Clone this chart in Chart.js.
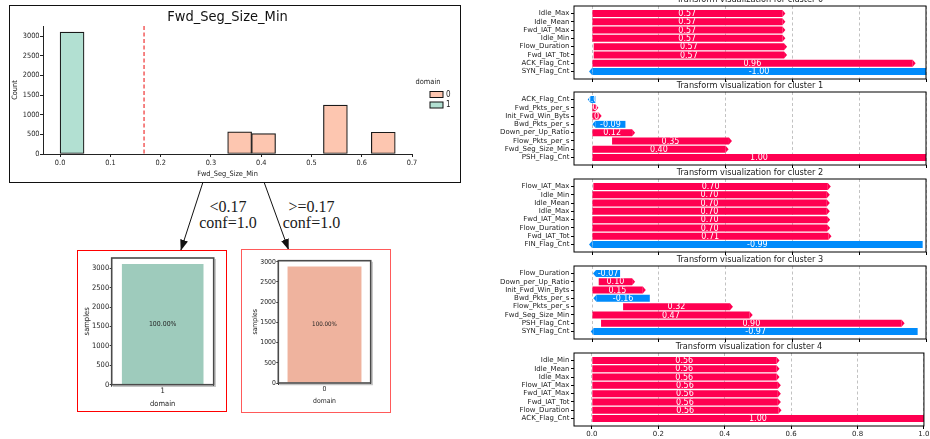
<!DOCTYPE html>
<html>
<head>
<meta charset="utf-8">
<script src="https://cdn.jsdelivr.net/npm/chart.js@4.4.0/dist/chart.umd.min.js"></script>
<style>
  body { margin: 0; width: 930px; height: 439px; position: relative; overflow: hidden; background: #fff; }
  canvas, .box, .edge-label, svg { position: absolute; }
  .box { box-sizing: border-box; }
  .edge-label { font-family: 'Liberation Serif', 'DejaVu Serif', serif; font-size: 16px; line-height: 16px;
                color: #1a1a1a; text-align: center; width: 80px; }
</style>
</head>
<body>
<div class="box" style="left:9px;top:5px;width:451.5px;height:177.5px;border:1.5px solid #111"></div>
<svg width="930" height="439" style="left:0;top:0">
  <defs>
    <marker id="head" markerWidth="11" markerHeight="8" refX="11" refY="4" orient="auto" markerUnits="userSpaceOnUse">
      <path d="M0,0 L11,4 L0,8 z" fill="#111"/>
    </marker>
  </defs>
  <line x1="203" y1="182" x2="180.7" y2="250.7" stroke="#111" stroke-width="1" marker-end="url(#head)"/>
  <line x1="264" y1="182" x2="288.7" y2="250" stroke="#111" stroke-width="1" marker-end="url(#head)"/>
</svg>
<div class="edge-label" style="left:188px;top:199px">&lt;0.17<br>conf=1.0</div>
<div class="edge-label" style="left:271.5px;top:199px">&gt;=0.17<br>conf=1.0</div>
<div class="box" style="left:77px;top:250px;width:149.5px;height:161.5px;border:1.5px solid #f00"></div>
<div class="box" style="left:241px;top:249px;width:150px;height:163.5px;border:1.5px solid #ff5a5a"></div>

<script>
// histogram of the split feature, per domain
const histFeature = 'Fwd_Seg_Size_Min';
const binWidth = 1 / 21;
const domain0Bins = [7, 8, 11, 13];
const domain0Counts = [563, 520, 1245, 555];
const domain1Bins = [0];
const domain1Counts = [3110];
const histXTicks = [0, 0.1, 0.2, 0.3, 0.4, 0.5, 0.6, 0.7];
const countTicks = [0, 500, 1000, 1500, 2000, 2500, 3000];
const splitThreshold = 0.167;

// leaf nodes of the tree
const leftLeafClasses = ['1'];
const leftLeafSamples = [3110];
const rightLeafClasses = ['0'];
const rightLeafSamples = [2883];

// transform visualisation, one list of features per cluster
const cluster0Features = ['Idle_Max', 'Idle_Mean', 'Fwd_IAT_Max', 'Idle_Min', 'Flow_Duration', 'Fwd_IAT_Tot', 'ACK_Flag_Cnt', 'SYN_Flag_Cnt'];
const cluster0Start = [0, 0, 0, 0, 0.005, 0.005, 0, 1.0];
const cluster0End = [0.57, 0.57, 0.57, 0.57, 0.575, 0.575, 0.96, 0];

const cluster1Features = ['ACK_Flag_Cnt', 'Fwd_Pkts_per_s', 'Init_Fwd_Win_Byts', 'Bwd_Pkts_per_s', 'Down_per_Up_Ratio', 'Flow_Pkts_per_s', 'Fwd_Seg_Size_Min', 'PSH_Flag_Cnt'];
const cluster1Start = [0.01, 0, 0, 0.10, 0, 0.06, 0, 0];
const cluster1End = [-0.004, 0.01, 0.02, 0.01, 0.12, 0.41, 0.40, 1.0];

const cluster2Features = ['Flow_IAT_Max', 'Idle_Min', 'Idle_Mean', 'Idle_Max', 'Fwd_IAT_Max', 'Flow_Duration', 'Fwd_IAT_Tot', 'FIN_Flag_Cnt'];
const cluster2Start = [0.004, 0, 0, 0, 0, 0, 0, 0.99];
const cluster2End = [0.706, 0.703, 0.703, 0.703, 0.704, 0.704, 0.708, 0];

const cluster3Features = ['Flow_Duration', 'Down_per_Up_Ratio', 'Init_Fwd_Win_Byts', 'Bwd_Pkts_per_s', 'Flow_Pkts_per_s', 'Fwd_Seg_Size_Min', 'PSH_Flag_Cnt', 'SYN_Flag_Cnt'];
const cluster3Start = [0.084, 0.02, 0, 0.173, 0.093, 0, 0.027, 0.975];
const cluster3End = [0.012, 0.12, 0.152, 0.013, 0.413, 0.472, 0.927, 0.005];

const cluster4Features = ['Idle_Min', 'Idle_Mean', 'Idle_Max', 'Flow_IAT_Max', 'Fwd_IAT_Max', 'Fwd_IAT_Tot', 'Flow_Duration', 'ACK_Flag_Cnt'];
const cluster4Start = [0, 0, 0, 0, 0, 0, 0, 0];
const cluster4End = [0.556, 0.556, 0.556, 0.56, 0.56, 0.56, 0.562, 1.0];

const transformTicks = [0, 0.2, 0.4, 0.6, 0.8, 1.0];

const LEFT_FONT = "'DejaVu Sans Condensed', 'DejaVu Sans', sans-serif";
const RIGHT_FONT = "'DejaVu Sans', sans-serif";
const POS = '#ff0051';
const NEG = '#008bfb';

Chart.defaults.animation = false;
Chart.defaults.events = [];
Chart.defaults.color = '#222';

// make a canvas at rect and work out paddings so the plot area lands on area
function place(rect, area) {
  const cv = document.createElement('canvas');
  cv.width = rect.w; cv.height = rect.h;
  cv.style.left = rect.x + 'px'; cv.style.top = rect.y + 'px';
  document.body.appendChild(cv);
  return {
    canvas: cv,
    padding: { left: 0, top: area.top - rect.y, right: rect.x + rect.w - area.right, bottom: 0 },
    yWidth: area.left - rect.x,
    xHeight: rect.y + rect.h - area.bottom
  };
}

function fixTicks(values) {
  return axis => { axis.ticks = values.map(v => ({ value: v })); };
}

// ---- histogram ----
const histTitle = {
  id: 'histTitle',
  afterDatasetsDraw(chart) {
    const { ctx, chartArea: a, scales: { x } } = chart;
    const px = x.getPixelForValue(splitThreshold);
    ctx.save();
    ctx.strokeStyle = '#f25c5c';
    ctx.lineWidth = 1.5;
    ctx.setLineDash([4, 2.5]);
    ctx.beginPath(); ctx.moveTo(px, a.top); ctx.lineTo(px, a.bottom); ctx.stroke();
    ctx.restore();
  },
  afterDraw(chart) {
    const { ctx, chartArea: a } = chart;
    ctx.save();
    ctx.font = '14.5px ' + LEFT_FONT;
    ctx.fillStyle = '#111';
    ctx.textAlign = 'center'; ctx.textBaseline = 'middle';
    ctx.fillText(histFeature, (a.left + a.right) / 2, a.top - 9);

    // legend
    const x0 = a.right + 18, cy = (a.top + a.bottom) / 2;
    ctx.font = '7.4px ' + LEFT_FONT;
    ctx.fillStyle = '#222';
    ctx.fillText('domain', x0 - 2, cy - 8);
    chart.data.datasets.forEach((ds, i) => {
      const y = cy + 4.5 + i * 10.5;
      ctx.fillStyle = ds.backgroundColor;
      ctx.fillRect(x0, y - 3, 13, 6);
      ctx.strokeStyle = '#111'; ctx.lineWidth = 1;
      ctx.strokeRect(x0, y - 3, 13, 6);
      ctx.fillStyle = '#222'; ctx.textAlign = 'left';
      ctx.font = '8px ' + LEFT_FONT;
      ctx.fillText(ds.label, x0 + 16, y);
    });
    ctx.restore();
  }
};

function histDataset(label, bins, counts, color) {
  return {
    label: label,
    data: bins.map((b, i) => ({ x: (b + 0.5) * binWidth, y: counts[i] })),
    backgroundColor: color,
    borderColor: '#1a1a1a',
    borderWidth: 1.2,
    borderSkipped: false,
    grouped: false,
    barPercentage: 1,
    categoryPercentage: 1
  };
}

(function () {
  const p = place({ x: 11, y: 7, w: 447, h: 173 }, { left: 43, top: 26, right: 412, bottom: 154 });
  const tickFont = { family: LEFT_FONT, size: 7.3 };
  new Chart(p.canvas, {
    type: 'bar',
    data: {
      datasets: [
        histDataset('0', domain0Bins, domain0Counts, '#fdc6b0'),
        histDataset('1', domain1Bins, domain1Counts, '#b2e0d2')
      ]
    },
    options: {
      responsive: false,
      layout: { padding: p.padding },
      plugins: { legend: { display: false }, tooltip: { enabled: false } },
      scales: {
        x: {
          type: 'linear', min: -0.034, max: 0.7, offset: false,
          afterBuildTicks: fixTicks(histXTicks),
          afterFit: s => { s.height = p.xHeight; },
          grid: { drawOnChartArea: false, offset: false, tickLength: 3, color: '#222' },
          border: { color: '#222', width: 1 },
          ticks: { font: tickFont, padding: 2, maxRotation: 0, callback: v => v.toFixed(1) },
          title: { display: true, text: histFeature, font: tickFont, padding: { top: 0, bottom: 1.6 } }
        },
        y: {
          min: 0, max: 3265,
          afterBuildTicks: fixTicks(countTicks),
          afterFit: s => { s.width = p.yWidth; },
          grid: { drawOnChartArea: false, tickLength: 3, color: '#222' },
          border: { color: '#222', width: 1 },
          ticks: { font: tickFont, padding: 0.5, callback: v => String(v) },
          title: { display: true, text: 'Count', font: tickFont, padding: { top: 0, bottom: 0 } }
        }
      }
    },
    plugins: [histTitle]
  });
})();

// ---- leaf bar charts ----
const leafPlugin = {
  id: 'leafPlugin',
  afterDatasetsDraw(chart, args, opts) {
    const { ctx } = chart;
    const values = chart.data.datasets[0].data;
    const total = values.reduce((a, b) => a + b, 0);
    const bar = chart.getDatasetMeta(0).data[0];
    const { x, y, base } = bar.getProps(['x', 'y', 'base'], true);
    ctx.save();
    ctx.font = opts.size + 'px ' + LEFT_FONT;
    ctx.fillStyle = '#222';
    ctx.textAlign = 'center'; ctx.textBaseline = 'middle';
    ctx.fillText((values[0] / total * 100).toFixed(2) + '%', x, (y + base) / 2);
    ctx.restore();
  },
  afterDraw(chart) {
    const { ctx, chartArea: a } = chart;
    ctx.save();
    ctx.strokeStyle = '#c4c4c4'; ctx.lineWidth = 1.2;
    ctx.beginPath();
    ctx.moveTo(a.right + 1.6, a.top + 1); ctx.lineTo(a.right + 1.6, a.bottom + 1.6); ctx.lineTo(a.left + 1, a.bottom + 1.6);
    ctx.stroke();
    ctx.strokeStyle = '#4a4a4a'; ctx.lineWidth = 1.6;
    ctx.strokeRect(a.left, a.top, a.right - a.left, a.bottom - a.top);
    ctx.restore();
  }
};

function leafChart(rect, area, classes, samples, color, fontSize, xTitlePad, yTitlePad) {
  const p = place(rect, area);
  const font = { family: LEFT_FONT, size: fontSize };
  const top = samples[0] * 1.05;
  new Chart(p.canvas, {
    type: 'bar',
    data: {
      labels: classes,
      datasets: [{ data: samples, backgroundColor: color, barPercentage: 0.8, categoryPercentage: 1 }]
    },
    options: {
      responsive: false,
      layout: { padding: p.padding },
      plugins: { legend: { display: false }, tooltip: { enabled: false }, leafPlugin: { size: fontSize - 0.6 } },
      scales: {
        x: {
          afterFit: s => { s.height = p.xHeight; },
          grid: { drawOnChartArea: false, tickLength: 2, color: '#333' },
          border: { display: false },
          ticks: { font: font, padding: 0 },
          title: { display: true, text: 'domain', font: font, padding: { top: 0, bottom: xTitlePad } }
        },
        y: {
          min: 0, max: top,
          afterBuildTicks: fixTicks(countTicks.filter(v => v <= top)),
          afterFit: s => { s.width = p.yWidth; },
          grid: { drawOnChartArea: false, tickLength: 2, color: '#333' },
          border: { display: false },
          ticks: { font: font, padding: 0.5, callback: v => String(v) },
          title: { display: true, text: 'samples', font: font, padding: { top: yTitlePad, bottom: 0 } }
        }
      }
    },
    plugins: [leafPlugin]
  });
}

leafChart({ x: 80, y: 253, w: 144, h: 156 }, { left: 111.7, top: 258, right: 213.7, bottom: 384.7 },
  leftLeafClasses, leftLeafSamples, '#9ecbbc', 7.5, 0.5, 2.2);
leafChart({ x: 244, y: 252, w: 145, h: 158 }, { left: 278.3, top: 260.7, right: 370.7, bottom: 383 },
  rightLeafClasses, rightLeafSamples, '#efb39e', 6.8, 4.6, 7.6);

// ---- transform visualisation panels ----
const fmt = v => (Math.round(v * 100) / 100).toFixed(2);

const shapArrows = {
  id: 'shapArrows',
  afterDatasetsDraw(chart) {
    const { ctx, chartArea: a, scales: { x } } = chart;
    const ds = chart.data.datasets[0];
    const meta = chart.getDatasetMeta(0);
    ctx.save();
    ctx.beginPath(); ctx.rect(a.left, a.top, a.right - a.left, a.bottom - a.top); ctx.clip();
    meta.data.forEach((bar, i) => {
      const [s, e] = ds.data[i].x;
      const { y, height } = bar.getProps(['y', 'height'], true);
      const ps = x.getPixelForValue(s), pe = x.getPixelForValue(e);
      const dir = e >= s ? 1 : -1;
      const h = height / 2, tip = 3;
      ctx.fillStyle = ds.backgroundColor[i];
      ctx.beginPath();
      ctx.moveTo(pe, y - h); ctx.lineTo(pe + dir * tip, y); ctx.lineTo(pe, y + h); ctx.closePath();
      ctx.fill();
      // value label, clipped to its arrow
      ctx.save();
      ctx.beginPath();
      ctx.moveTo(ps, y - h); ctx.lineTo(pe, y - h); ctx.lineTo(pe + dir * tip, y);
      ctx.lineTo(pe, y + h); ctx.lineTo(ps, y + h); ctx.closePath();
      ctx.clip();
      ctx.fillStyle = '#fff';
      ctx.font = '8px ' + RIGHT_FONT;
      ctx.textAlign = 'center'; ctx.textBaseline = 'middle';
      ctx.fillText(fmt(e - s), (ps + pe) / 2, y + 0.5);
      ctx.restore();
    });
    ctx.restore();
  },
  afterDraw(chart, args, opts) {
    const { ctx, chartArea: a } = chart;
    ctx.save();
    ctx.strokeStyle = '#000'; ctx.lineWidth = 1;
    ctx.strokeRect(a.left, a.top, a.right - a.left, a.bottom - a.top);
    ctx.font = '8.2px ' + RIGHT_FONT;
    ctx.fillStyle = '#1a1a1a';
    ctx.textAlign = 'center'; ctx.textBaseline = 'middle';
    ctx.fillText(opts.title, (a.left + a.right) / 2, a.top - 6.5);
    ctx.restore();
  }
};

const clusterTops = [5.5, 91.7, 179, 265.8, 353.2];
const panelHeight = 73;

function clusterChart(k, features, starts, ends) {
  const top = clusterTops[k];
  const last = k === clusterTops.length - 1;
  const p = place({ x: 480, y: top - 14, w: 450, h: 14 + panelHeight + (last ? 14 : 6) },
                  { left: 574, right: 926, top: top, bottom: top + panelHeight });
  const tickFont = { family: RIGHT_FONT, size: 7 };
  new Chart(p.canvas, {
    type: 'bar',
    data: {
      datasets: [{
        data: features.map((f, i) => ({ y: i, x: [starts[i], ends[i]] })),
        backgroundColor: features.map((f, i) => ends[i] >= starts[i] ? POS : NEG),
        barPercentage: 0.84,
        categoryPercentage: 1
      }]
    },
    options: {
      indexAxis: 'y',
      responsive: false,
      layout: { padding: p.padding },
      plugins: {
        legend: { display: false }, tooltip: { enabled: false },
        shapArrows: { title: 'Transform visualization for cluster ' + k }
      },
      scales: {
        x: {
          type: 'linear', min: -0.054, max: 1.0,
          afterBuildTicks: fixTicks(transformTicks),
          afterFit: s => { s.height = p.xHeight; },
          grid: { color: '#b3b3b3', lineWidth: 0.8, tickColor: '#000', tickWidth: 1, tickLength: 3 },
          border: { display: false, dash: [3, 2.5] },
          ticks: { display: last, font: tickFont, padding: 0.5, maxRotation: 0, callback: v => v.toFixed(1) }
        },
        y: {
          type: 'linear', min: -0.9, max: features.length - 0.1, reverse: true, offset: false,
          afterBuildTicks: fixTicks(features.map((f, i) => i)),
          afterFit: s => { s.width = p.yWidth; },
          grid: { drawOnChartArea: false, offset: false, color: '#000', tickLength: 3 },
          border: { display: false },
          ticks: { font: tickFont, padding: 1.5, autoSkip: false, callback: v => features[v] }
        }
      }
    },
    plugins: [shapArrows]
  });
}

clusterChart(0, cluster0Features, cluster0Start, cluster0End);
clusterChart(1, cluster1Features, cluster1Start, cluster1End);
clusterChart(2, cluster2Features, cluster2Start, cluster2End);
clusterChart(3, cluster3Features, cluster3Start, cluster3End);
clusterChart(4, cluster4Features, cluster4Start, cluster4End);
</script>
</body>
</html>
